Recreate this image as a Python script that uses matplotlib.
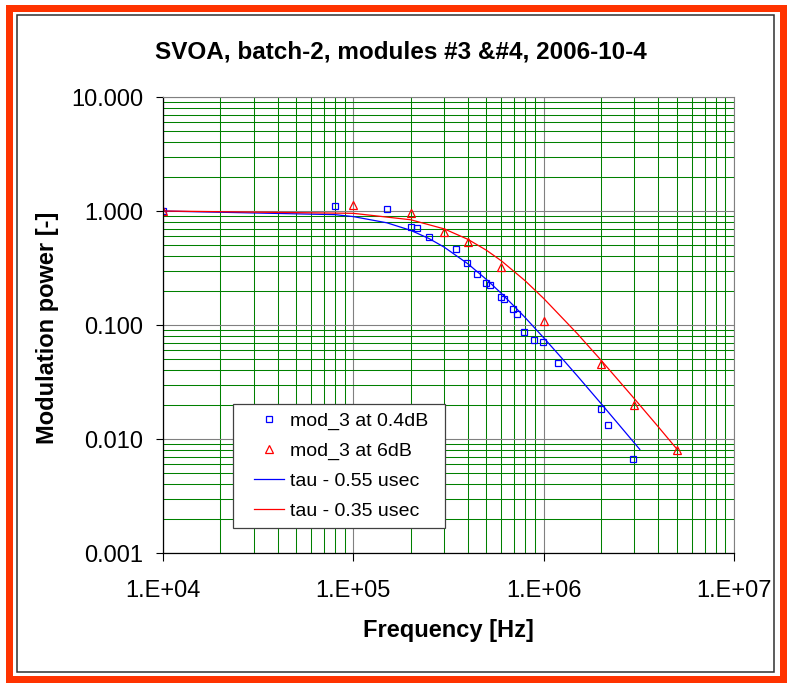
import numpy as np
import matplotlib
matplotlib.use('Agg')
import matplotlib.pyplot as plt
from matplotlib.lines import Line2D
from matplotlib.legend_handler import HandlerLine2D
from matplotlib.patches import Rectangle
from matplotlib.ticker import LogLocator, FuncFormatter, NullFormatter

plt.rcParams['font.family'] = ['Liberation Sans', 'DejaVu Sans']

# ---------------- data ----------------
title = "SVOA, batch-2, modules #3 &#4, 2006-10-4"
x_label = "Frequency [Hz]"
y_label = "Modulation power [-]"

label_mod3_04 = "mod_3 at 0.4dB"
label_mod3_6 = "mod_3 at 6dB"
label_tau055 = "tau - 0.55 usec"
label_tau035 = "tau - 0.35 usec"

mod3_04dB_freq = [1.0e4, 8.0e4, 1.5e5, 2.0e5, 2.15e5, 2.5e5, 3.45e5, 3.95e5, 4.45e5,
                  4.95e5, 5.25e5, 5.95e5, 6.2e5, 6.9e5, 7.2e5, 7.9e5, 8.9e5, 9.9e5,
                  1.19e6, 1.99e6, 2.18e6, 2.94e6]
mod3_04dB_power = [1.00, 1.11, 1.035, 0.727, 0.705, 0.59, 0.461, 0.348, 0.279,
                   0.233, 0.223, 0.176, 0.168, 0.137, 0.124, 0.0869, 0.0735, 0.071,
                   0.0465, 0.0182, 0.0132, 0.00664]

mod3_6dB_freq = [1.0e4, 1.0e5, 2.0e5, 3.0e5, 4.0e5, 6.0e5, 1.0e6, 2.0e6, 3.0e6, 5.0e6]
mod3_6dB_power = [1.00, 1.12, 0.955, 0.658, 0.538, 0.325, 0.108, 0.0455, 0.0198, 0.0080]

tau055_freq = [1.0e4, 8.0e4, 1.0e5, 1.5e5, 2.0e5, 2.5e5, 3.0e5, 4.0e5, 5.0e5, 6.0e5,
               7.0e5, 8.0e5, 1.0e6, 1.2e6, 1.5e6, 2.0e6, 2.5e6, 3.0e6, 3.2e6]
tau055_power = [0.999, 0.929, 0.893, 0.788, 0.677, 0.573, 0.482, 0.344, 0.251, 0.189,
                0.146, 0.116, 0.0773, 0.0549, 0.0359, 0.0205, 0.0132, 0.0092, 0.0081]

tau035_freq = [1.0e4, 1.0e5, 2.0e5, 3.0e5, 4.0e5, 5.0e5, 6.0e5, 8.0e5, 1.0e6, 1.5e6,
               2.0e6, 3.0e6, 4.0e6, 5.0e6]
tau035_power = [0.9995, 0.954, 0.838, 0.697, 0.564, 0.453, 0.365, 0.244, 0.171, 0.0842,
                0.0492, 0.0225, 0.0128, 0.0082]

x_limits = (1e4, 1e7)
y_limits = (1e-3, 10)

# ---------------- layout ----------------
W, H = 788, 687
fig = plt.figure(figsize=(W / 100, H / 100), dpi=100, facecolor='white')


def fx(px):
    return px / W


def fy(py):
    return 1 - py / H


ax = fig.add_axes([fx(163), fy(553), (734 - 163) / W, (553 - 97) / H])
ax.set_facecolor('white')
ax.set_xscale('log')
ax.set_yscale('log')
ax.set_xlim(*x_limits)
ax.set_ylim(*y_limits)

ax.xaxis.set_major_locator(LogLocator(base=10, numticks=20))
ax.yaxis.set_major_locator(LogLocator(base=10, numticks=20))
ax.xaxis.set_minor_locator(LogLocator(base=10, subs=np.arange(2, 10), numticks=100))
ax.yaxis.set_minor_locator(LogLocator(base=10, subs=np.arange(2, 10), numticks=100))
ax.xaxis.set_minor_formatter(NullFormatter())
ax.yaxis.set_minor_formatter(NullFormatter())


def excel_sci(v, pos):
    m, e = f"{v:.0E}".split('E')
    return f"{m}.E{e}"


ax.xaxis.set_major_formatter(FuncFormatter(excel_sci))
ax.yaxis.set_major_formatter(FuncFormatter(lambda v, p: f"{v:.3f}"))

ax.set_axisbelow(True)
ax.grid(which='minor', color='#008000', linewidth=0.75)
ax.grid(which='major', color='#808080', linewidth=0.8)

ax.tick_params(which='minor', length=0)
ax.tick_params(which='major', direction='out', length=5.4, width=0.8, color='black',
               labelsize=17, labelcolor='black')
ax.tick_params(axis='y', which='major', pad=9)
ax.tick_params(axis='x', which='major', pad=14)

for side in ('left', 'bottom'):
    ax.spines[side].set_color('black')
    ax.spines[side].set_linewidth(0.9)
for side in ('top', 'right'):
    ax.spines[side].set_color('#808080')
    ax.spines[side].set_linewidth(0.8)

# ---------------- series ----------------
ax.plot(mod3_04dB_freq, mod3_04dB_power, linestyle='none', marker='s', ms=5,
        mfc='none', mec='#0000FF', mew=0.9, label=label_mod3_04)
ax.plot(mod3_6dB_freq, mod3_6dB_power, linestyle='none', marker='^', ms=6,
        mfc='none', mec='#FF0000', mew=0.9, label=label_mod3_6)
ax.plot(tau055_freq, tau055_power, '-', color='#0000FF', lw=0.9, label=label_tau055)
ax.plot(tau035_freq, tau035_power, '-', color='#FF0000', lw=0.9, label=label_tau035)

leg = ax.legend(loc='upper left',
                bbox_to_anchor=(fx(233), fy(527), (445 - 233) / W, (527 - 404) / H),
                bbox_transform=fig.transFigure, mode='expand', borderaxespad=0,
                fontsize=14, frameon=True, fancybox=False, framealpha=1,
                edgecolor='#404040', facecolor='white', borderpad=0.42,
                labelspacing=0.63, handlelength=2.2, handletextpad=0.31,
                numpoints=1, handler_map={Line2D: HandlerLine2D(xpad=0.66)})
leg.get_frame().set_linewidth(0.9)

# ---------------- texts ----------------
fig.text(fx(400.5), fy(58), title, ha='center', va='baseline',
         fontsize=17.5, fontweight='bold')
fig.text(fx(448.5), fy(637), x_label, ha='center', va='baseline',
         fontsize=17, fontweight='bold')
fig.text(fx(47.5), fy(328), y_label, ha='center', va='center', rotation=90,
         fontsize=17, fontweight='bold')

# ---------------- borders ----------------
fig.patches.append(Rectangle((fx(8.5), fy(679)), (783 - 8.5) / W, (679 - 7.5) / H,
                             transform=fig.transFigure, fill=False,
                             edgecolor='#FF3300', linewidth=7 * 0.72))
fig.patches.append(Rectangle((fx(17), fy(672)), (774 - 17) / W, (672 - 15) / H,
                             transform=fig.transFigure, fill=False,
                             edgecolor='#303030', linewidth=1.1))

fig.savefig('out.png', dpi=100, facecolor='white')
